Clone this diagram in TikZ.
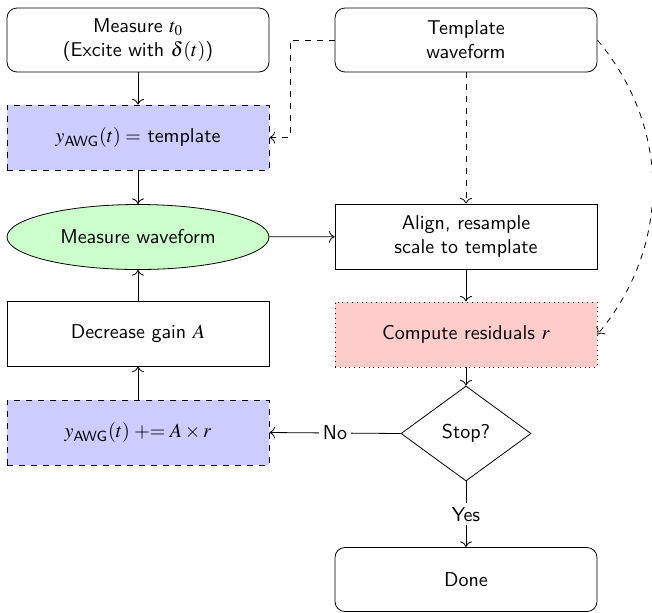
\documentclass[tikz,border=0pt]{standalone}
\usepackage{amsmath}
\usepackage{mathptmx}
\usetikzlibrary{shapes.geometric,arrows.meta}
\begin{document}
\begin{tikzpicture}[x=0.5pt,y=-0.5pt,font=\sffamily,
  >={To[scale=1.15]},
  box/.style={draw, minimum width=131pt, minimum height=32.5pt, align=center, inner sep=2pt},
  rbox/.style={box, rounded corners=5pt, minimum height=32pt},
  bluebox/.style={box, dashed, fill=blue!20},
  pinkbox/.style={box, dotted, fill=red!20},
  ellbox/.style={ellipse, draw, fill=green!20, minimum width=131pt, minimum height=32.5pt, inner sep=1pt},
  decbox/.style={diamond, draw, minimum width=65pt, minimum height=47.5pt, aspect=1.37, inner sep=1pt},
  arr/.style={->},
  darr/.style={->, dashed},
  lbl/.style={fill=white, inner sep=2pt}]
\useasboundingbox (0,0) rectangle (652,612);
\node[rbox] (m0) at (138,40) {Measure $t_0$\\(Excite with $\delta(t)$)};
\node[rbox] (tpl) at (466,40) {Template\\waveform};
\node[bluebox] (awg1) at (138,137.5) {$y_{\text{AWG}}(t) =$ template};
\node[ellbox] (mw) at (138,237) {Measure waveform};
\node[box] (align) at (466,236.5) {Align, resample\\scale to template};
\node[box] (dec) at (138,333.5) {Decrease gain $A$};
\node[pinkbox] (res) at (466,334.5) {Compute residuals $r$};
\node[bluebox] (awg2) at (138,432.5) {$y_{\text{AWG}}(t) \mathrel{+}= A\times r$};
\node[decbox] (stop) at (466,433.5) {Stop?};
\node[rbox] (done) at (466,579.5) {Done};
\coordinate (bend) at (290,40);
\draw[arr] (m0) -- (awg1);
\draw[arr] (awg1) -- (mw);
\draw[arr] (mw) -- (align);
\draw[arr] (align) -- (res);
\draw[arr] (res) -- (stop);
\draw[arr] (dec) -- (mw);
\draw[arr] (awg2) -- (dec);
\draw[darr] (tpl.west) -- (bend) |- (awg1.east);
\draw[darr] (tpl) -- (align);
\draw[darr] (tpl.east) to[bend left=40] (res.east);
\draw[arr] (stop.west) -- node[lbl] {No} (awg2.east);
\draw[arr] (stop.south) -- node[lbl, pos=0.5] {Yes} (done.north);
\end{tikzpicture}
\end{document}
